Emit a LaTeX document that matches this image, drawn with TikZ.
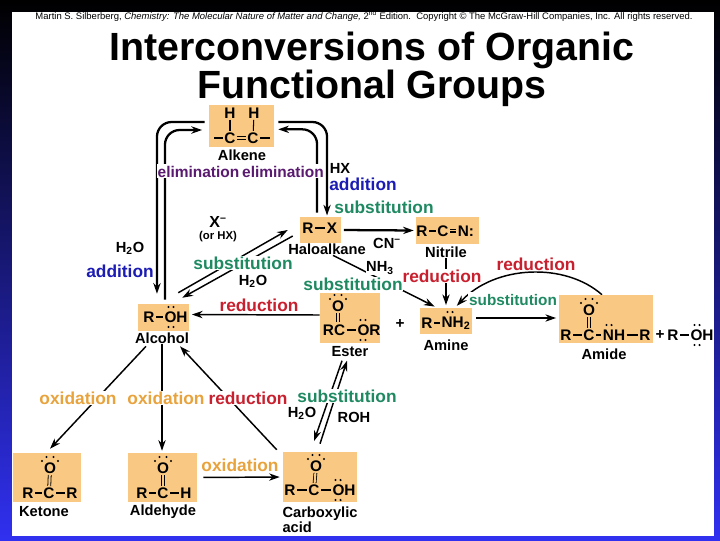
\documentclass[tikz,border=0pt]{standalone}
\usepackage{fontspec}
\setmainfont{Liberation Sans}
\usetikzlibrary{arrows.meta, backgrounds, fit}

\definecolor{backblue}{HTML}{3030F0}
\definecolor{boxorange}{HTML}{F9C983}
\definecolor{substgreen}{HTML}{1F8A62}
\definecolor{addblue}{HTML}{1C1CB4}
\definecolor{elimpurple}{HTML}{5A1A70}
\definecolor{redured}{HTML}{C8202E}
\definecolor{oxorange}{HTML}{E8A33D}

\tikzset{
  molbox/.style={fill=boxorange, inner sep=0pt},
  atom/.style={font=\fontsize{11.5}{11.5}\selectfont\bfseries, inner sep=1pt},
  molname/.style={font=\fontsize{11}{11}\selectfont\bfseries, inner sep=0.5pt},
  reagent/.style={font=\fontsize{11}{11}\selectfont\bfseries, inner sep=0.5pt, fill=white},
  lab/.style={font=\fontsize{13}{13}\selectfont\bfseries, inner sep=0.5pt, fill=white, text height=9.5pt, text depth=0pt},
  substlab/.style={lab, text=substgreen},
  addlab/.style={lab, text=addblue},
  elimlab/.style={lab, text=elimpurple, font=\fontsize{11.6}{12}\selectfont\bfseries},
  redlab/.style={lab, text=redured},
  oxlab/.style={lab, text=oxorange},
  bond/.style={line width=0.8pt},
  dbond/.style={line width=0.6pt, double=boxorange, double distance=1.6pt},
  conn/.style={line width=1.1pt, -{Stealth[length=8pt,width=5.5pt]}},
  thick conn/.style={line width=1.7pt, -{Stealth[length=8pt,width=5.5pt]}, rounded corners=11pt},
}
\newcommand{\pairdots}[2]{\fill (#1-2.6,#2) circle (0.85pt) (#1+2.6,#2) circle (0.85pt);}
\newcommand{\carbonyldots}[2]{\foreach \sx in {-1,1}{\fill (#1+\sx*3.5,#2-11) circle (0.85pt) (#1+\sx*8,#2-7) circle (0.85pt);}}

\begin{document}
\begin{tikzpicture}[x=0.75pt, y=-0.75pt]
\useasboundingbox (0,0) rectangle (720,540);

\node[font=\fontsize{7.1}{7.5}\selectfont, inner sep=0pt] (credit) at (364,16.5) {Martin S. Silberberg, \textit{Chemistry: The Molecular Nature of Matter and Change,} 2\textsuperscript{nd} Edition.\ \ Copyright © The McGraw-Hill Companies, Inc. All rights reserved.};
\node[font=\fontsize{29.5}{28.5}\selectfont\bfseries, align=center, inner sep=0pt] (title) at (372,69) {Interconversions of Organic\\Functional Groups};

\node[molbox, fit={(209,105) (274,147)}] (alkene) {};
\node[molbox, fit={(300,217) (341,243)}] (halo) {};
\node[molbox, fit={(416,217) (479,244)}] (nitrile) {};
\node[molbox, fit={(138,304) (189,331)}] (alcohol) {};
\node[molbox, fit={(320,293) (380,343)}] (ester) {};
\node[molbox, fit={(420,308) (472,334)}] (amine) {};
\node[molbox, fit={(559,295) (653,343)}] (amide) {};
\node[molbox, fit={(13,453) (81,502)}] (ketone) {};
\node[molbox, fit={(128,453) (197,502)}] (aldehyde) {};
\node[molbox, fit={(283,452) (357,502)}] (carbox) {};

\node[molname] (nAlkene) at (242,155) {Alkene};
\node[molname] (nHalo) at (327,249) {Haloalkane};
\node[molname] (nNitrile) at (446,252) {Nitrile};
\node[molname] (nAlcohol) at (162,338) {Alcohol};
\node[molname] (nEster) at (350,352) {Ester};
\node[molname] (nAmine) at (446,345) {Amine};
\node[molname] (nAmide) at (604,354) {Amide};
\node[molname] (nKetone) at (44,512) {Ketone};
\node[molname] (nAldehyde) at (163,512) {Aldehyde};
\node[molname, align=left] (nCarbox) at (320,520) {Carboxylic\\acid};

% alkene
\node[atom] (alkH1) at (230,113) {H};
\node[atom] (alkH2) at (254,113) {H};
\node[atom] (alkC1) at (230,138) {C};
\node[atom] (alkC2) at (253,138) {C};
\coordinate (alkL) at (214,138);
\coordinate (alkR) at (270,138);
\draw[bond] (alkH1) -- (alkC1);
\draw[bond] (alkH2) -- (alkC2);
\draw[bond] (alkL) -- (alkC1);
\draw[bond] (alkC2) -- (alkR);
\draw[dbond] (alkC1) -- (alkC2);

% haloalkane
\node[atom] (rxR) at (308,228) {R};
\node[atom] (rxX) at (332,228) {X};
\draw[bond] (rxR) -- (rxX);

% nitrile
\node[atom] (nitR) at (422,231) {R};
\node[atom] (nitC) at (443,231) {C};
\node[atom] (nitN) at (466,231) {N:};
\draw[bond] (nitR) -- (nitC);
\draw[dbond, double distance=2.2pt, line width=0.5pt] (nitC) -- (nitN);
\draw[line width=0.5pt] (nitC) -- (nitN);

% alcohol
\node[atom] (alcR) at (149,317) {R};
\node[atom] (alcOH) at (176,317) {OH};
\draw[bond] (alcR) -- (alcOH);
\pairdots{171}{307}
\pairdots{171}{327}

% ester
\node[atom] (estO) at (338,306) {O};
\node[atom] (estRC) at (334,330) {RC};
\node[atom] (estOR) at (369,330) {OR};
\draw[dbond] (estO) -- (338,322);
\draw[bond] (estRC) -- (estOR);
\carbonyldots{338}{306}
\pairdots{363}{320}
\pairdots{363}{340}

\node[atom] (plusA) at (400,324) {+};

% amine
\node[atom] (amnR) at (427,323) {R};
\node[atom] (amnN) at (456,323) {NH\textsubscript{2}};
\draw[bond] (amnR) -- (amnN);
\pairdots{450}{312}

% amide
\node[atom] (amdO) at (589,310) {O};
\node[atom] (amdC) at (589,335) {C};
\node[atom] (amdR) at (566,335) {R};
\node[atom] (amdN) at (614,335) {NH};
\node[atom] (amdR2) at (645,335) {R};
\draw[dbond] (amdO) -- (amdC);
\draw[bond] (amdR) -- (amdC);
\draw[bond] (amdC) -- (amdN);
\draw[bond] (amdN) -- (amdR2);
\carbonyldots{589}{310}
\pairdots{609}{325}

\node[atom] (plusB) at (660,335) {+};
\node[atom] (alcR2) at (673,335) {R};
\node[atom] (alcOH2) at (702,335) {OH};
\draw[bond] (alcR2) -- (alcOH2);
\pairdots{697}{325}
\pairdots{697}{345}

% ketone
\node[atom] (ketO) at (50,468) {O};
\node[atom] (ketC) at (49,493) {C};
\node[atom] (ketR1) at (28,493) {R};
\node[atom] (ketR2) at (72,493) {R};
\draw[dbond] (ketO) -- (ketC);
\draw[bond] (ketR1) -- (ketC);
\draw[bond] (ketC) -- (ketR2);
\carbonyldots{50}{468}

% aldehyde
\node[atom] (aldO) at (163,468) {O};
\node[atom] (aldC) at (163,493) {C};
\node[atom] (aldR) at (142,493) {R};
\node[atom] (aldH) at (186,493) {H};
\draw[dbond] (aldO) -- (aldC);
\draw[bond] (aldR) -- (aldC);
\draw[bond] (aldC) -- (aldH);
\carbonyldots{163}{468}

% carboxylic acid
\node[atom] (carO) at (316,466) {O};
\node[atom] (carC) at (314,490) {C};
\node[atom] (carR) at (290,490) {R};
\node[atom] (carOH) at (344,490) {OH};
\draw[dbond] (carO) -- (carC);
\draw[bond] (carR) -- (carC);
\draw[bond] (carC) -- (carOH);
\carbonyldots{316}{466}
\pairdots{338}{480}
\pairdots{338}{500}

\node[elimlab] (elimL) at (198.5,171) {elimination};
\node[elimlab] (elimR) at (283,171) {elimination};
\node[addlab] (addHX) at (363,184) {addition};
\node[substlab] (subNit) at (384,207) {substitution};
\node[addlab] (addWater) at (120,271) {addition};
\node[substlab] (subAlc) at (243,263) {substitution};
\node[substlab] (subAmine) at (353,284) {substitution};
\node[redlab] (redNit) at (442,276) {reduction};
\node[redlab] (redAmide) at (536,264) {reduction};
\node[substlab, font=\fontsize{11.5}{12}\selectfont\bfseries] (subAmide) at (513,299) {substitution};
\node[redlab] (redEster) at (259,305) {reduction};
\node[oxlab] (oxKet) at (78,398) {oxidation};
\node[oxlab] (oxAld) at (166,398) {oxidation};
\node[redlab] (redCar) at (248,398) {reduction};
\node[oxlab] (oxCar) at (240,465) {oxidation};
\node[substlab] (subCar) at (347,396) {substitution};

\node[reagent] (rHX) at (340,168) {HX};
\node[reagent] (rWater) at (130,248) {H\textsubscript{2}O};
\node[reagent, font=\fontsize{12}{12}\selectfont\bfseries] (rX) at (218,222) {X\textsuperscript{–}};
\node[reagent, font=\fontsize{8.5}{9}\selectfont\bfseries] (rOrHX) at (218,237) {(or HX)};
\node[reagent] (rWaterB) at (253,281) {H\textsubscript{2}O};
\node[reagent] (rCN) at (387,243) {CN\textsuperscript{–}};
\node[reagent] (rNH) at (380,268) {NH\textsubscript{3}};
\node[reagent] (rWaterC) at (302,413) {H\textsubscript{2}O};
\node[reagent] (rROH) at (354,417) {ROH};

\begin{scope}[on background layer]
\shade[top color=black, bottom color=backblue] (0,0) rectangle (720,540);
\fill[white] (12,12) rectangle (714,536);

\draw[thick conn, shorten <=3pt, shorten >=7.5pt] ([yshift=3pt]alkene.west) -| ([xshift=-4.9pt]alcohol.north);
\draw[thick conn, shorten >=3pt, shorten <=5pt, {Stealth[length=8pt,width=5.5pt]}-] ([yshift=-3pt]alkene.west) -| ([xshift=1.1pt]alcohol.north);
\draw[thick conn, shorten <=3pt, shorten >=1pt] ([yshift=3pt]alkene.east) -| ([xshift=4.9pt]halo.north);
\draw[thick conn, shorten >=3pt, shorten <=3pt, {Stealth[length=8pt,width=5.5pt]}-] ([yshift=-2.5pt]alkene.east) -| ([xshift=-2.6pt]halo.north);

\draw[conn] ([xshift=-8.25pt,yshift=8.25pt]alcohol.north east) -- ([xshift=-9pt]halo.west);
\draw[conn] ([xshift=-5.25pt,yshift=-4.5pt]halo.west) -- ([xshift=-5.25pt,yshift=4.5pt]alcohol.north east);
\draw[thick conn, rounded corners=0pt, shorten <=2pt, shorten >=1.5pt] (halo.east) -- (nitrile.west);
\draw[conn, shorten >=2pt] ([xshift=4.5pt]nHalo.south) -- ([xshift=-6.75pt]amine.north);
\draw[conn, shorten >=2pt] (nNitrile.south) -- (amine.north);
\draw[conn, shorten >=2pt] ([xshift=-3pt]amide.north) .. controls (565,262) and (495,265) .. ([xshift=6.75pt]amine.north);
\draw[conn, shorten <=3pt, shorten >=2pt] ([yshift=2.25pt]amine.east) -- ([yshift=0.75pt]amide.west);
\draw[conn, shorten >=2pt] ([yshift=2.25pt]ester.west) -- ([yshift=2.25pt]alcohol.east);
\draw[conn] ([xshift=-12pt,yshift=-1.5pt]nAlcohol.south) -- ([xshift=2.25pt,yshift=3pt]ketone.north);
\draw[conn, shorten >=1.5pt] (nAlcohol.south) -- (nAlcohol.south |- aldehyde.north);
\draw[conn] ([xshift=-4.5pt,yshift=1.5pt]carbox.north west) -- ([xshift=13.5pt,yshift=-1.5pt]nAlcohol.south);
\draw[conn, shorten <=4.5pt, shorten >=2.25pt] (aldehyde.east) -- (carbox.west);
\draw[conn] ([xshift=-6pt,yshift=-2pt]nEster.south) -- ([xshift=-4.5pt,yshift=8pt]carbox.north);
\draw[conn] ([yshift=6pt]carbox.north) -- ([xshift=-2.25pt,yshift=-2pt]nEster.south);
\end{scope}
\end{tikzpicture}
\end{document}
